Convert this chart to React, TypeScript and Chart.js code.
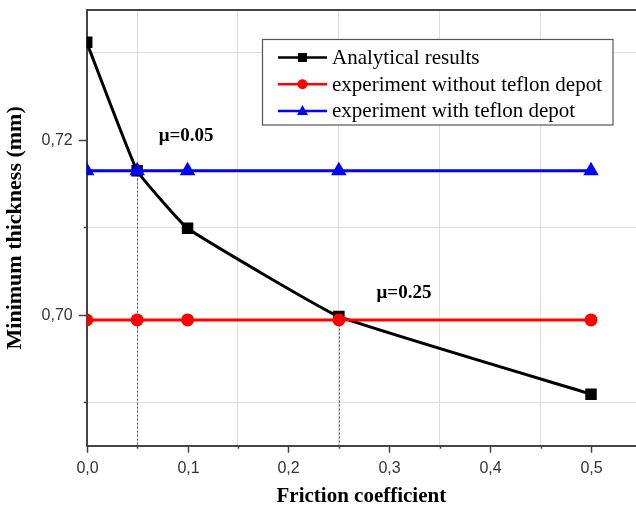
import React, { useEffect, useRef } from 'react';
import { Chart, registerables } from 'chart.js';

Chart.register(...registerables);

// ---- data ----
const frictionX = [0, 0.05, 0.1, 0.25, 0.5];
const analytical = [0.7312, 0.7165, 0.7099, 0.6998, 0.6909];
const withoutTeflon = [0.6994, 0.6994, 0.6994, 0.6994, 0.6994];
const withTeflon = [0.7165, 0.7165, 0.7165, 0.7165, 0.7165];
const seriesNames = ['Analytical results', 'experiment without teflon depot', 'experiment with teflon depot'];
const seriesColors = ['#000000', '#ff0000', '#0000ff'];
const seriesMarkers = ['rect', 'circle', 'triangle'];
const xTicks = [0, 0.05, 0.1, 0.15, 0.2, 0.25, 0.3, 0.35, 0.4, 0.45, 0.5];
const yTicks = [0.69, 0.7, 0.71, 0.72, 0.73];
const annotationText = ['μ=0.05', 'μ=0.25'];
const annotationX = [0.0985, 0.3146];
const annotationY = [0.7205, 0.7025];
const dropLineIndex = [1, 3];
const xTitle = 'Friction coefficient';
const yTitle = 'Minimum thickness (mm)';

const SANS = '"Liberation Sans", Arial, sans-serif';
const SERIF = '"Liberation Serif", "Times New Roman", serif';

const isMajorX = (v: number) => Math.abs(v * 10 - Math.round(v * 10)) < 1e-6;
const isMajorY = (v: number) => Math.round(v * 100) % 2 === 0;
const hasTickY = (v: number) => v < 0.725;
const fmtX = (v: number) => v.toFixed(1).replace('.', ',');
const fmtY = (v: number) => v.toFixed(2).replace('.', ',');

function drawMarker(ctx: CanvasRenderingContext2D, type: string, x: number, y: number, color: string) {
  ctx.fillStyle = color;
  ctx.beginPath();
  if (type === 'rect') {
    ctx.rect(x - 4.5, y - 4.5, 9, 9);
  } else if (type === 'circle') {
    ctx.arc(x, y, 5, 0, Math.PI * 2);
  } else {
    ctx.moveTo(x, y - 6);
    ctx.lineTo(x + 5.5, y + 4);
    ctx.lineTo(x - 5.5, y + 4);
    ctx.closePath();
  }
  ctx.fill();
}

const overlayPlugin = {
  id: 'overlay',
  beforeDatasetsDraw(chart: any) {
    const { ctx, chartArea, scales } = chart;
    const x = scales.x;
    const y = scales.y;
    ctx.save();
    ctx.strokeStyle = '#555';
    ctx.lineWidth = 1;
    ctx.setLineDash([2, 2]);
    dropLineIndex.forEach((i) => {
      const px = Math.round(x.getPixelForValue(frictionX[i])) + 0.5;
      ctx.beginPath();
      ctx.moveTo(px, y.getPixelForValue(analytical[i]));
      ctx.lineTo(px, chartArea.bottom);
      ctx.stroke();
    });
    ctx.restore();
  },
  afterDraw(chart: any) {
    const { ctx, chartArea, scales } = chart;
    const x = scales.x;
    const y = scales.y;
    ctx.save();
    // top frame line
    ctx.strokeStyle = '#444';
    ctx.lineWidth = 2;
    ctx.beginPath();
    ctx.moveTo(chartArea.left, chartArea.top);
    ctx.lineTo(chartArea.right, chartArea.top);
    ctx.stroke();
    // tick marks + labels
    ctx.lineWidth = 1.5;
    ctx.fillStyle = '#333';
    ctx.font = '16px ' + SANS;
    ctx.textAlign = 'center';
    ctx.textBaseline = 'middle';
    xTicks.forEach((v) => {
      const px = Math.round(x.getPixelForValue(v)) + 0.5;
      const major = isMajorX(v);
      ctx.beginPath();
      ctx.moveTo(px, chartArea.bottom);
      ctx.lineTo(px, chartArea.bottom + (major ? 7 : 3));
      ctx.stroke();
      if (major) ctx.fillText(fmtX(v), px, chartArea.bottom + 23);
    });
    ctx.textAlign = 'right';
    yTicks.forEach((v) => {
      if (!hasTickY(v)) return;
      const py = Math.round(y.getPixelForValue(v)) + 0.5;
      const major = isMajorY(v);
      ctx.beginPath();
      ctx.moveTo(chartArea.left, py);
      ctx.lineTo(chartArea.left - (major ? 8 : 3), py);
      ctx.stroke();
      if (major) ctx.fillText(fmtY(v), chartArea.left - 14, py);
    });
    // annotations
    ctx.fillStyle = '#000';
    ctx.font = 'bold 19px ' + SERIF;
    ctx.textAlign = 'center';
    ctx.textBaseline = 'middle';
    annotationText.forEach((t, i) => {
      ctx.fillText(t, x.getPixelForValue(annotationX[i]), y.getPixelForValue(annotationY[i]));
    });
    // legend
    const bx = 262.5, by = 39.5, bw = 350.5, bh = 85.5;
    ctx.fillStyle = '#fff';
    ctx.fillRect(bx, by, bw, bh);
    ctx.strokeStyle = '#555';
    ctx.lineWidth = 1.2;
    ctx.strokeRect(bx, by, bw, bh);
    ctx.font = '21px ' + SERIF;
    ctx.textAlign = 'left';
    ctx.textBaseline = 'middle';
    seriesNames.forEach((name, i) => {
      const ry = by + 18 + i * 26.7;
      ctx.strokeStyle = seriesColors[i];
      ctx.lineWidth = 2.5;
      ctx.beginPath();
      ctx.moveTo(278, ry);
      ctx.lineTo(327, ry);
      ctx.stroke();
      drawMarker(ctx, seriesMarkers[i], 302.5, ry, seriesColors[i]);
      ctx.fillStyle = '#000';
      ctx.fillText(name, 332, ry + 1);
    });
    ctx.restore();
  },
};

export default function App() {
  const canvasRef = useRef<HTMLCanvasElement | null>(null);

  useEffect(() => {
    if (!canvasRef.current) return;
    const mk = (vals: number[]) => frictionX.map((xv, i) => ({ x: xv, y: vals[i] }));
    const chart = new Chart(canvasRef.current, {
      type: 'line',
      data: {
        datasets: [
          {
            label: seriesNames[0],
            data: mk(analytical),
            borderColor: seriesColors[0],
            backgroundColor: seriesColors[0],
            borderWidth: 3,
            pointStyle: 'rect',
            pointRadius: 6,
            tension: 0.1,
            order: 3,
          },
          {
            label: seriesNames[1],
            data: mk(withoutTeflon),
            borderColor: seriesColors[1],
            backgroundColor: seriesColors[1],
            borderWidth: 3,
            pointStyle: 'circle',
            pointRadius: 5,
            order: 2,
          },
          {
            label: seriesNames[2],
            data: mk(withTeflon),
            borderColor: seriesColors[2],
            backgroundColor: seriesColors[2],
            borderWidth: 3,
            pointStyle: 'triangle',
            pointRadius: 6,
            order: 1,
          },
        ],
      },
      options: {
        animation: false,
        responsive: false,
        maintainAspectRatio: false,
        layout: { autoPadding: false, padding: { top: 10, left: 0, right: 0, bottom: 0 } },
        plugins: { legend: { display: false }, tooltip: { enabled: false } },
        scales: {
          x: {
            type: 'linear',
            min: 0,
            max: 0.5446,
            afterBuildTicks: (s: any) => {
              s.ticks = xTicks.map((v) => ({ value: v }));
            },
            afterFit: (s: any) => {
              s.height = 63.3;
            },
            grid: {
              drawTicks: false,
              lineWidth: 1,
              color: (c: any) => (c.tick && !isMajorX(c.tick.value) ? '#dedede' : 'rgba(0,0,0,0)'),
            },
            border: { display: true, color: '#444', width: 2 },
            ticks: { display: false },
            title: {
              display: true,
              text: xTitle,
              color: '#000',
              font: { family: SERIF, size: 21, weight: 'bold' },
              padding: { top: 0, bottom: 0 },
            },
          },
          y: {
            type: 'linear',
            min: 0.685,
            max: 0.7349,
            afterBuildTicks: (s: any) => {
              s.ticks = yTicks.map((v) => ({ value: v }));
            },
            afterFit: (s: any) => {
              s.width = 86.7;
            },
            grid: {
              drawTicks: false,
              lineWidth: 1,
              color: (c: any) => (c.tick && !isMajorY(c.tick.value) ? '#dedede' : 'rgba(0,0,0,0)'),
            },
            border: { display: true, color: '#444', width: 2 },
            ticks: { display: false },
            title: {
              display: true,
              text: yTitle,
              color: '#000',
              font: { family: SERIF, size: 22, weight: 'bold' },
              padding: { top: 2, bottom: 0 },
            },
          },
        },
      },
      plugins: [overlayPlugin],
    });
    return () => chart.destroy();
  }, []);

  return (
    <div style={{ position: 'fixed', left: 0, top: 0, width: 636, height: 509, background: '#fff' }}>
      <canvas ref={canvasRef} width={636} height={509} style={{ width: 636, height: 509 }} />
    </div>
  );
}
